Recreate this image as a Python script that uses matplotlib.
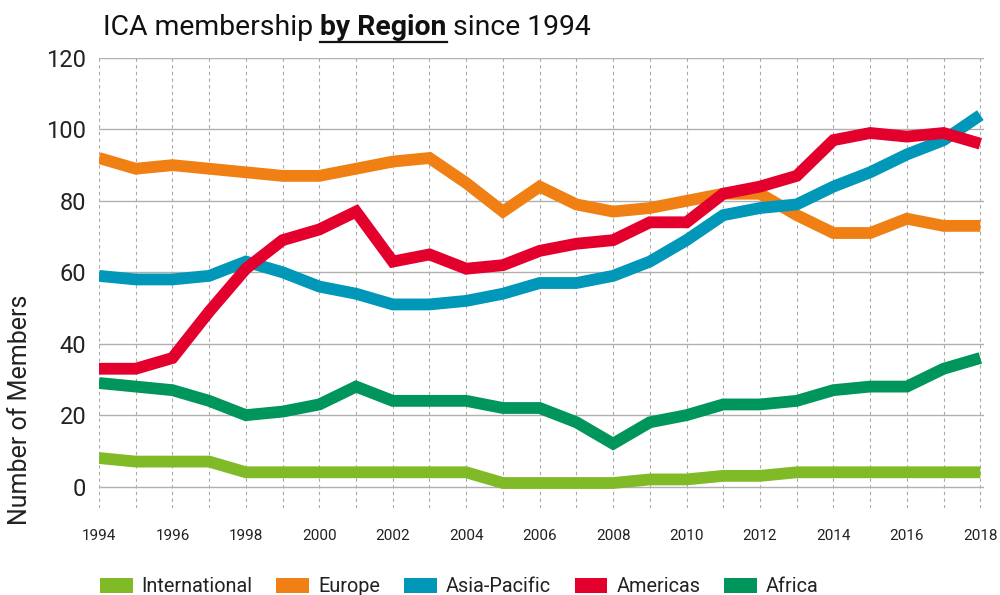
import matplotlib
matplotlib.use("Agg")
import matplotlib.pyplot as plt
from matplotlib.lines import Line2D
from matplotlib.patches import Patch

plt.rcParams['font.family'] = ['Roboto', 'DejaVu Sans']

years = list(range(1994, 2019))

# members per region
international = [8, 7, 7, 7, 4, 4, 4, 4, 4, 4, 4, 1, 1, 1, 1, 2, 2, 3, 3, 4, 4, 4, 4, 4, 4]
africa = [29, 28, 27, 24, 20, 21, 23, 28, 24, 24, 24, 22, 22, 18, 12, 18, 20, 23, 23, 24, 27, 28, 28, 33, 36]
europe = [92, 89, 90, 89, 88, 87, 87, 89, 91, 92, 85, 77, 84, 79, 77, 78, 80, 82, 82, 76, 71, 71, 75, 73, 73]
asia_pacific = [59, 58, 58, 59, 63, 60, 56, 54, 51, 51, 52, 54, 57, 57, 59, 63, 69, 76, 78, 79, 84, 88, 93, 97, 104]
americas = [33, 33, 36, 49, 61, 69, 72, 77, 63, 65, 61, 62, 66, 68, 69, 74, 74, 82, 84, 87, 97, 99, 98, 99, 96]

legend_order = ["International", "Europe", "Asia-Pacific", "Americas", "Africa"]
colors = {
    "International": "#80ba26",
    "Europe": "#f08014",
    "Asia-Pacific": "#0097b8",
    "Americas": "#e4002d",
    "Africa": "#00955a",
}
# drawing order (bottom to top)
series = [
    ("International", international),
    ("Africa", africa),
    ("Europe", europe),
    ("Asia-Pacific", asia_pacific),
    ("Americas", americas),
]

fig = plt.figure(figsize=(10, 5.95), dpi=100)
ax = fig.add_axes([0.099, 0.1462, 0.885, 0.7563])

for name, vals in series:
    ax.plot(years, vals, color=colors[name], linewidth=8.5,
            solid_joinstyle='miter', solid_capstyle='butt', zorder=3)

ax.set_xlim(1994, 2018.1)
ax.set_ylim(-6, 120)
ax.set_xticks(range(1994, 2019, 2))
ax.set_xticks(years, minor=True)
ax.set_yticks(range(0, 121, 20))

ax.grid(axis='y', which='major', color='#b0b0b0', linewidth=1, linestyle='-', zorder=1)
ax.grid(axis='x', which='both', color='#a8a8a8', linewidth=0.8, linestyle=(0, (3, 3)), zorder=1)

for s in ax.spines.values():
    s.set_visible(False)
ax.tick_params(axis='both', which='both', length=0)
ax.tick_params(axis='y', labelsize=17, pad=9, labelcolor='#222222')
ax.tick_params(axis='x', labelsize=11, pad=15, labelcolor='#222222')
ax.set_ylabel("Number of Members", fontsize=18, color='#222222')
ax.yaxis.set_label_coords(-0.0757, 0.218)

handles = [Patch(facecolor=colors[n], edgecolor='none', label=n) for n in legend_order]
ax.legend(handles=handles, loc='upper left', bbox_to_anchor=(0.001, -0.154),
          ncol=5, frameon=False, fontsize=14.3, handlelength=1.65, handleheight=0.85,
          handletextpad=0.45, columnspacing=1.2, borderaxespad=0, borderpad=0,
          labelcolor='#222222')

# title with bold underlined part
renderer = fig.canvas.get_renderer()
ty = 0.941
fs = 20.4
t1 = fig.text(0.103, ty, "ICA membership ", fontsize=fs, color='#111111', va='baseline')
bb1 = t1.get_window_extent(renderer).transformed(fig.transFigure.inverted())
t2 = fig.text(bb1.x1, ty, "by Region", fontsize=fs, fontweight='bold', color='#111111', va='baseline')
bb2 = t2.get_window_extent(renderer).transformed(fig.transFigure.inverted())
t3 = fig.text(bb2.x1, ty, " since 1994", fontsize=fs, color='#111111', va='baseline')
uy = ty - 7 / 595
fig.add_artist(Line2D([bb2.x0, bb2.x1], [uy, uy], transform=fig.transFigure,
                      color='#111111', linewidth=1.6))

fig.savefig("out.png", dpi=100)
